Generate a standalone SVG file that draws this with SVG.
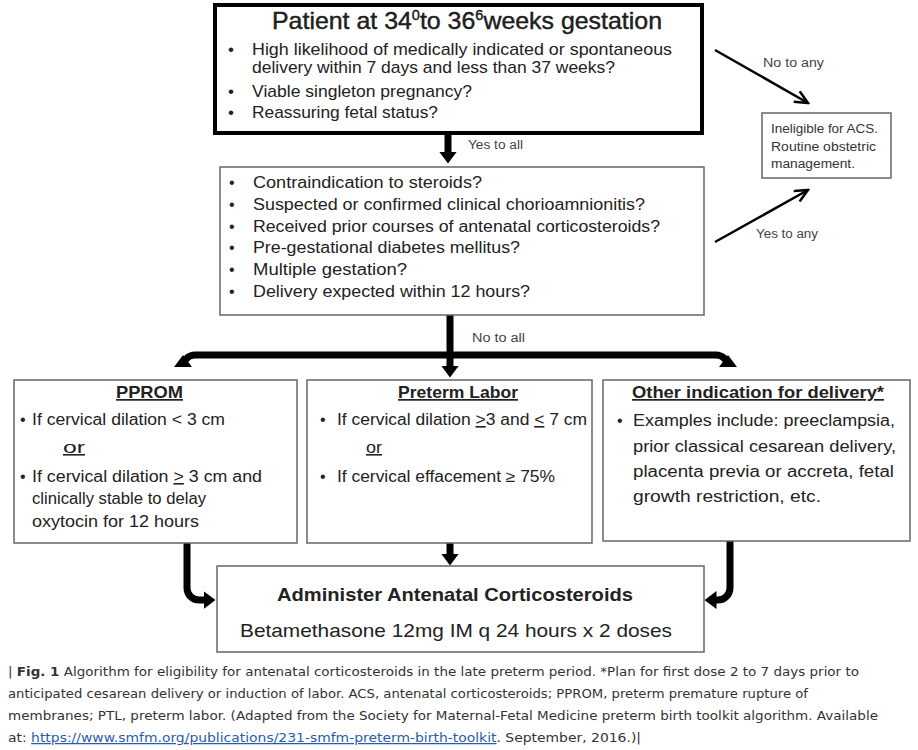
<svg xmlns="http://www.w3.org/2000/svg" width="918" height="750" viewBox="0 0 918 750">
<style>
.bg{fill:#fff}
.thick{fill:#fff;stroke:#000;stroke-width:4}
.box{fill:#fff;stroke:#666;stroke-width:1.5}
.t{font-family:"Liberation Sans",Arial,sans-serif;fill:#222}
.b17{font-size:17px}
.b16{font-size:16px}
.s12{font-size:12.5px;fill:#333}
.lbl{font-family:"Liberation Sans",Arial,sans-serif;font-size:12.5px;fill:#444}
.h{font-size:17px;font-weight:bold;text-decoration:underline}
.u{text-decoration:underline}
.fat{fill:none;stroke:#000;stroke-width:7}
.thin{fill:none;stroke:#000;stroke-width:2.5}
.cap{font-family:"DejaVu Sans",Verdana,sans-serif;font-size:12.5px;fill:#333}
.link{fill:#2a5caa;text-decoration:underline}
</style>
<defs>
<marker id="hd" markerUnits="userSpaceOnUse" viewBox="0 0 12 18" markerWidth="12" markerHeight="18" refX="0.5" refY="9" orient="auto">
<path d="M0,0 L12,9 L0,18 z" fill="#000"/>
</marker>
<marker id="vh" markerUnits="userSpaceOnUse" viewBox="0 0 16 14" markerWidth="16" markerHeight="14" refX="14" refY="7" orient="auto">
<path d="M1,1 L14,7 L1,13" fill="none" stroke="#000" stroke-width="2.5"/>
</marker>
</defs>
<rect class="bg" x="0" y="0" width="918" height="750"/>

<g id="connectors">
<path class="fat" d="M448,134 V152" marker-end="url(#hd)"/>
<path class="fat" d="M450,315 V366" marker-end="url(#hd)"/>
<path class="fat" d="M450,355 H195 A12,12 0 0 0 183,367 V366.5" marker-end="url(#hd)"/>
<path class="fat" d="M450,355 H716 A12,12 0 0 1 728,367 V366.5" marker-end="url(#hd)"/>
<path class="fat" d="M187,543 V588 A12,12 0 0 0 199,600 H204" marker-end="url(#hd)"/>
<path class="fat" d="M450,543 V554" marker-end="url(#hd)"/>
<path class="fat" d="M730,541 V588 A12,12 0 0 1 718,600 H716" marker-end="url(#hd)"/>
<path class="thin" d="M715,50 L808,103" marker-end="url(#vh)"/>
<path class="thin" d="M715,242 L808,190" marker-end="url(#vh)"/>
<text class="lbl" x="468" y="149" textLength="55" lengthAdjust="spacingAndGlyphs">Yes to all</text>
<text class="lbl" x="763" y="67" textLength="61" lengthAdjust="spacingAndGlyphs">No to any</text>
<text class="lbl" x="756" y="238" textLength="62" lengthAdjust="spacingAndGlyphs">Yes to any</text>
<text class="lbl" x="472" y="342" textLength="53" lengthAdjust="spacingAndGlyphs">No to all</text>
</g>

<g id="patient">
<rect class="thick" x="215" y="5" width="487" height="128"/>
<text class="t" x="272" y="29" font-size="24" fill="#111" stroke="#111" stroke-width="0.4" textLength="390" lengthAdjust="spacingAndGlyphs">Patient at 34<tspan font-size="14" dy="-9">0</tspan><tspan dy="9">to 36</tspan><tspan font-size="14" dy="-9">6</tspan><tspan dy="9">weeks gestation</tspan></text>
<g class="t b17">
<text x="228" y="55">•</text>
<text x="252" y="55" textLength="420" lengthAdjust="spacingAndGlyphs">High likelihood of medically indicated or spontaneous</text>
<text x="252" y="73" textLength="363" lengthAdjust="spacingAndGlyphs">delivery within 7 days and less than 37 weeks?</text>
<text x="228" y="97">•</text>
<text x="252" y="97" textLength="220" lengthAdjust="spacingAndGlyphs">Viable singleton pregnancy?</text>
<text x="228" y="118">•</text>
<text x="252" y="118" textLength="186" lengthAdjust="spacingAndGlyphs">Reassuring fetal status?</text>
</g>
</g>

<g id="ineligible">
<rect class="box" x="762" y="113" width="129" height="65"/>
<text class="t s12" x="771" y="133" textLength="107" lengthAdjust="spacingAndGlyphs">Ineligible for ACS.</text>
<text class="t s12" x="771" y="151" textLength="105" lengthAdjust="spacingAndGlyphs">Routine obstetric</text>
<text class="t s12" x="771" y="168" textLength="84" lengthAdjust="spacingAndGlyphs">management.</text>
</g>

<g id="contraindications">
<rect class="box" x="220" y="167" width="484" height="148"/>
<g class="t b16">
<text x="229" y="188">•</text>
<text x="253" y="188" textLength="229" lengthAdjust="spacingAndGlyphs">Contraindication to steroids?</text>
<text x="229" y="210">•</text>
<text x="253" y="210" textLength="392" lengthAdjust="spacingAndGlyphs">Suspected or confirmed clinical chorioamnionitis?</text>
<text x="229" y="232">•</text>
<text x="253" y="232" textLength="407" lengthAdjust="spacingAndGlyphs">Received prior courses of antenatal corticosteroids?</text>
<text x="229" y="253">•</text>
<text x="253" y="253" textLength="267" lengthAdjust="spacingAndGlyphs">Pre-gestational diabetes mellitus?</text>
<text x="229" y="275">•</text>
<text x="253" y="275" textLength="154" lengthAdjust="spacingAndGlyphs">Multiple gestation?</text>
<text x="229" y="297">•</text>
<text x="253" y="297" textLength="277" lengthAdjust="spacingAndGlyphs">Delivery expected within 12 hours?</text>
</g>
</g>

<g id="pprom">
<rect class="box" x="14" y="380" width="283" height="163"/>
<text class="t h" x="116" y="398" textLength="67" lengthAdjust="spacingAndGlyphs">PPROM</text>
<g class="t b16">
<text x="20" y="425">•</text>
<text x="32" y="425" textLength="193" lengthAdjust="spacingAndGlyphs">If cervical dilation &lt; 3 cm</text>
<text x="63" y="453" class="u" textLength="22" lengthAdjust="spacingAndGlyphs">or</text>
<text x="20" y="482">•</text>
<text x="32" y="482" textLength="230" lengthAdjust="spacingAndGlyphs">If cervical dilation <tspan class="u">&gt;</tspan> 3 cm and</text>
<text x="32" y="504" textLength="174" lengthAdjust="spacingAndGlyphs">clinically stable to delay</text>
<text x="32" y="527" textLength="167" lengthAdjust="spacingAndGlyphs">oxytocin for 12 hours</text>
</g>
</g>

<g id="preterm-labor">
<rect class="box" x="307" y="380" width="285" height="163"/>
<text class="t h" x="398" y="398" textLength="120" lengthAdjust="spacingAndGlyphs">Preterm Labor</text>
<g class="t b16">
<text x="320" y="425">•</text>
<text x="337" y="425" textLength="250" lengthAdjust="spacingAndGlyphs">If cervical dilation <tspan class="u">&gt;</tspan>3 and <tspan class="u">&lt;</tspan> 7 cm</text>
<text x="366" y="453" class="u" textLength="16" lengthAdjust="spacingAndGlyphs">or</text>
<text x="320" y="482">•</text>
<text x="337" y="482" textLength="218" lengthAdjust="spacingAndGlyphs">If cervical effacement ≥ 75%</text>
</g>
</g>

<g id="other-indication">
<rect class="box" x="603" y="380" width="307" height="161"/>
<text class="t h" x="632" y="398" textLength="252" lengthAdjust="spacingAndGlyphs">Other indication  for delivery*</text>
<g class="t b16">
<text x="617" y="426">•</text>
<text x="633" y="426" textLength="262" lengthAdjust="spacingAndGlyphs">Examples include: preeclampsia,</text>
<text x="633" y="452" textLength="263" lengthAdjust="spacingAndGlyphs">prior classical cesarean delivery,</text>
<text x="633" y="477" textLength="261" lengthAdjust="spacingAndGlyphs">placenta previa or accreta, fetal</text>
<text x="633" y="502" textLength="188" lengthAdjust="spacingAndGlyphs">growth restriction, etc.</text>
</g>
</g>

<g id="administer">
<rect class="box" x="217" y="566" width="487" height="86"/>
<text class="t" x="277" y="601" font-size="19" font-weight="bold" textLength="356" lengthAdjust="spacingAndGlyphs">Administer Antenatal Corticosteroids</text>
<text class="t" x="240" y="637" font-size="19" textLength="432" lengthAdjust="spacingAndGlyphs">Betamethasone 12mg IM q 24 hours x 2 doses</text>
</g>

<g id="caption">
<text class="cap" x="8" y="676" textLength="851" lengthAdjust="spacingAndGlyphs">| <tspan font-weight="bold">Fig. 1</tspan> Algorithm for eligibility for antenatal corticosteroids in the late preterm period. *Plan for first dose 2 to 7 days prior to</text>
<text class="cap" x="8" y="698" textLength="800" lengthAdjust="spacingAndGlyphs">anticipated cesarean delivery or induction of labor. ACS, antenatal corticosteroids; PPROM, preterm premature rupture of</text>
<text class="cap" x="8" y="720" textLength="870" lengthAdjust="spacingAndGlyphs">membranes; PTL, preterm labor. (Adapted from the Society for Maternal-Fetal Medicine preterm birth toolkit algorithm. Available</text>
<text class="cap" x="8" y="742" textLength="633" lengthAdjust="spacingAndGlyphs">at: <tspan class="link">https://www.smfm.org/publications/231-smfm-preterm-birth-toolkit</tspan>. September, 2016.)|</text>
</g>
</svg>
